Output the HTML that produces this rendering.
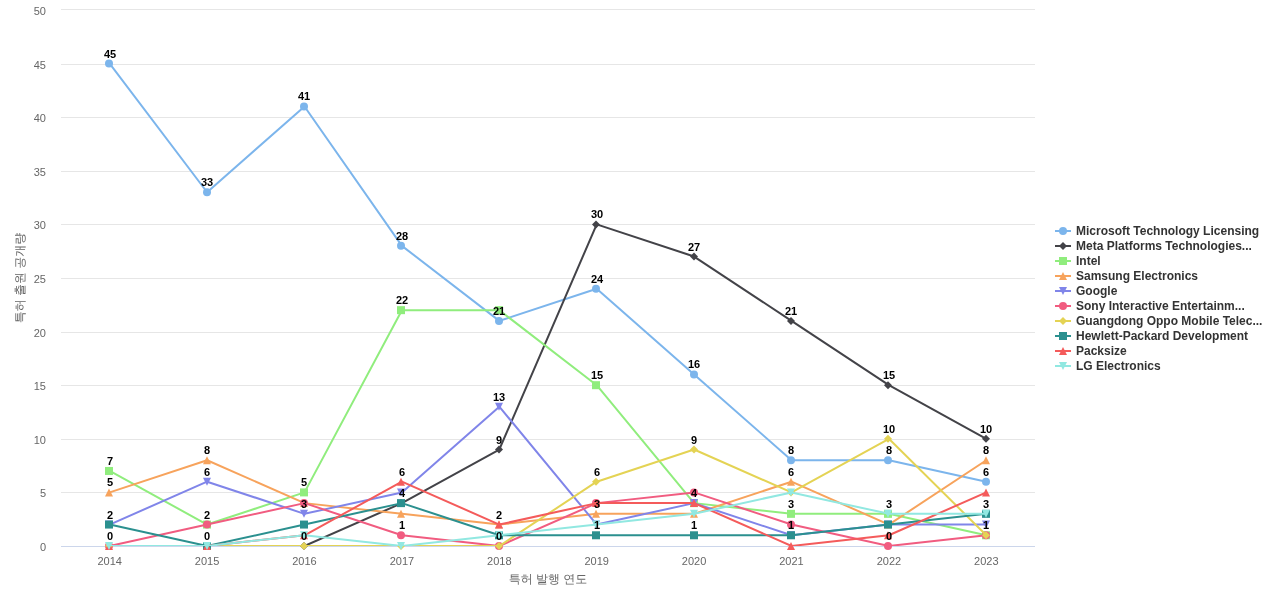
<!DOCTYPE html><html><head><meta charset="utf-8"><title>특허 출원 공개량</title><style>html,body{margin:0;padding:0;background:#fff;width:1280px;height:600px;overflow:hidden}svg{display:block;will-change:transform}text{font-family:'Liberation Sans', 'WenQuanYi Zen Hei', sans-serif}</style></head><body>
<svg width="1280" height="600" viewBox="0 0 1280 600">
<rect width="1280" height="600" fill="#ffffff"/>
<g stroke="#e6e6e6" stroke-width="1" fill="none">
<path d="M61 9.5H1035"/>
<path d="M61 64.5H1035"/>
<path d="M61 117.5H1035"/>
<path d="M61 171.5H1035"/>
<path d="M61 224.5H1035"/>
<path d="M61 278.5H1035"/>
<path d="M61 332.5H1035"/>
<path d="M61 385.5H1035"/>
<path d="M61 439.5H1035"/>
<path d="M61 492.5H1035"/>
<path d="M61 546.5H1035"/>
</g>
<path d="M61 546.5H1035" stroke="#ccd6eb" stroke-width="1" fill="none"/>
<g fill="#666666" font-size="11" text-anchor="end">
<text x="46" y="15">50</text>
<text x="46" y="68.6">45</text>
<text x="46" y="122.2">40</text>
<text x="46" y="175.8">35</text>
<text x="46" y="229.4">30</text>
<text x="46" y="283">25</text>
<text x="46" y="336.6">20</text>
<text x="46" y="390.2">15</text>
<text x="46" y="443.8">10</text>
<text x="46" y="497.4">5</text>
<text x="46" y="551">0</text>
</g>
<g fill="#666666" font-size="11" text-anchor="middle">
<text x="109.7" y="565">2014</text>
<text x="207.1" y="565">2015</text>
<text x="304.5" y="565">2016</text>
<text x="401.9" y="565">2017</text>
<text x="499.3" y="565">2018</text>
<text x="596.7" y="565">2019</text>
<text x="694.1" y="565">2020</text>
<text x="791.5" y="565">2021</text>
<text x="888.9" y="565">2022</text>
<text x="986.3" y="565">2023</text>
</g>
<text x="548" y="583" fill="#666666" font-size="12" text-anchor="middle">특허 발행 연도</text>
<text transform="translate(23.5 278) rotate(-90)" x="0" y="0" fill="#666666" font-size="12" text-anchor="middle">특허 출원 공개량</text>
<defs><clipPath id="pc"><rect x="61" y="10" width="974" height="536"/></clipPath></defs>
<g><path d="M109.7 63.6L207.1 192.24L304.5 106.48L401.9 245.84L499.3 320.88L596.7 288.72L694.1 374.48L791.5 460.24L888.9 460.24L986.3 481.68" fill="none" stroke="#7cb5ec" stroke-width="2" stroke-linejoin="round" stroke-linecap="round" clip-path="url(#pc)"/>
<circle cx="109" cy="63.6" r="4" fill="#7cb5ec"/>
<circle cx="207" cy="192.24" r="4" fill="#7cb5ec"/>
<circle cx="304" cy="106.48" r="4" fill="#7cb5ec"/>
<circle cx="401" cy="245.84" r="4" fill="#7cb5ec"/>
<circle cx="499" cy="320.88" r="4" fill="#7cb5ec"/>
<circle cx="596" cy="288.72" r="4" fill="#7cb5ec"/>
<circle cx="694" cy="374.48" r="4" fill="#7cb5ec"/>
<circle cx="791" cy="460.24" r="4" fill="#7cb5ec"/>
<circle cx="888" cy="460.24" r="4" fill="#7cb5ec"/>
<circle cx="986" cy="481.68" r="4" fill="#7cb5ec"/>
</g>
<g><path d="M109.7 546L207.1 546L304.5 546L401.9 503.12L499.3 449.52L596.7 224.4L694.1 256.56L791.5 320.88L888.9 385.2L986.3 438.8" fill="none" stroke="#434348" stroke-width="2" stroke-linejoin="round" stroke-linecap="round" clip-path="url(#pc)"/>
<path d="M109 542L113 546L109 550L105 546Z" fill="#434348"/>
<path d="M207 542L211 546L207 550L203 546Z" fill="#434348"/>
<path d="M304 542L308 546L304 550L300 546Z" fill="#434348"/>
<path d="M401 499.12L405 503.12L401 507.12L397 503.12Z" fill="#434348"/>
<path d="M499 445.52L503 449.52L499 453.52L495 449.52Z" fill="#434348"/>
<path d="M596 220.4L600 224.4L596 228.4L592 224.4Z" fill="#434348"/>
<path d="M694 252.56L698 256.56L694 260.56L690 256.56Z" fill="#434348"/>
<path d="M791 316.88L795 320.88L791 324.88L787 320.88Z" fill="#434348"/>
<path d="M888 381.2L892 385.2L888 389.2L884 385.2Z" fill="#434348"/>
<path d="M986 434.8L990 438.8L986 442.8L982 438.8Z" fill="#434348"/>
</g>
<g><path d="M109.7 470.96L207.1 524.56L304.5 492.4L401.9 310.16L499.3 310.16L596.7 385.2L694.1 503.12L791.5 513.84L888.9 513.84L986.3 535.28" fill="none" stroke="#90ed7d" stroke-width="2" stroke-linejoin="round" stroke-linecap="round" clip-path="url(#pc)"/>
<rect x="105" y="466.96" width="8" height="8" fill="#90ed7d"/>
<rect x="203" y="520.56" width="8" height="8" fill="#90ed7d"/>
<rect x="300" y="488.4" width="8" height="8" fill="#90ed7d"/>
<rect x="397" y="306.16" width="8" height="8" fill="#90ed7d"/>
<rect x="495" y="306.16" width="8" height="8" fill="#90ed7d"/>
<rect x="592" y="381.2" width="8" height="8" fill="#90ed7d"/>
<rect x="690" y="499.12" width="8" height="8" fill="#90ed7d"/>
<rect x="787" y="509.84" width="8" height="8" fill="#90ed7d"/>
<rect x="884" y="509.84" width="8" height="8" fill="#90ed7d"/>
<rect x="982" y="531.28" width="8" height="8" fill="#90ed7d"/>
</g>
<g><path d="M109.7 492.4L207.1 460.24L304.5 503.12L401.9 513.84L499.3 524.56L596.7 513.84L694.1 513.84L791.5 481.68L888.9 524.56L986.3 460.24" fill="none" stroke="#f7a35c" stroke-width="2" stroke-linejoin="round" stroke-linecap="round" clip-path="url(#pc)"/>
<path d="M109 488.4L113 496.4L105 496.4Z" fill="#f7a35c"/>
<path d="M207 456.24L211 464.24L203 464.24Z" fill="#f7a35c"/>
<path d="M304 499.12L308 507.12L300 507.12Z" fill="#f7a35c"/>
<path d="M401 509.84L405 517.84L397 517.84Z" fill="#f7a35c"/>
<path d="M499 520.56L503 528.56L495 528.56Z" fill="#f7a35c"/>
<path d="M596 509.84L600 517.84L592 517.84Z" fill="#f7a35c"/>
<path d="M694 509.84L698 517.84L690 517.84Z" fill="#f7a35c"/>
<path d="M791 477.68L795 485.68L787 485.68Z" fill="#f7a35c"/>
<path d="M888 520.56L892 528.56L884 528.56Z" fill="#f7a35c"/>
<path d="M986 456.24L990 464.24L982 464.24Z" fill="#f7a35c"/>
</g>
<g><path d="M109.7 524.56L207.1 481.68L304.5 513.84L401.9 492.4L499.3 406.64L596.7 524.56L694.1 503.12L791.5 535.28L888.9 524.56L986.3 524.56" fill="none" stroke="#8085e9" stroke-width="2" stroke-linejoin="round" stroke-linecap="round" clip-path="url(#pc)"/>
<path d="M105 520.56L113 520.56L109 528.56Z" fill="#8085e9"/>
<path d="M203 477.68L211 477.68L207 485.68Z" fill="#8085e9"/>
<path d="M300 509.84L308 509.84L304 517.84Z" fill="#8085e9"/>
<path d="M397 488.4L405 488.4L401 496.4Z" fill="#8085e9"/>
<path d="M495 402.64L503 402.64L499 410.64Z" fill="#8085e9"/>
<path d="M592 520.56L600 520.56L596 528.56Z" fill="#8085e9"/>
<path d="M690 499.12L698 499.12L694 507.12Z" fill="#8085e9"/>
<path d="M787 531.28L795 531.28L791 539.28Z" fill="#8085e9"/>
<path d="M884 520.56L892 520.56L888 528.56Z" fill="#8085e9"/>
<path d="M982 520.56L990 520.56L986 528.56Z" fill="#8085e9"/>
</g>
<g><path d="M109.7 546L207.1 524.56L304.5 503.12L401.9 535.28L499.3 546L596.7 503.12L694.1 492.4L791.5 524.56L888.9 546L986.3 535.28" fill="none" stroke="#f15c80" stroke-width="2" stroke-linejoin="round" stroke-linecap="round" clip-path="url(#pc)"/>
<circle cx="109" cy="546" r="4" fill="#f15c80"/>
<circle cx="207" cy="524.56" r="4" fill="#f15c80"/>
<circle cx="304" cy="503.12" r="4" fill="#f15c80"/>
<circle cx="401" cy="535.28" r="4" fill="#f15c80"/>
<circle cx="499" cy="546" r="4" fill="#f15c80"/>
<circle cx="596" cy="503.12" r="4" fill="#f15c80"/>
<circle cx="694" cy="492.4" r="4" fill="#f15c80"/>
<circle cx="791" cy="524.56" r="4" fill="#f15c80"/>
<circle cx="888" cy="546" r="4" fill="#f15c80"/>
<circle cx="986" cy="535.28" r="4" fill="#f15c80"/>
</g>
<g><path d="M109.7 546L207.1 546L304.5 546L401.9 546L499.3 546L596.7 481.68L694.1 449.52L791.5 492.4L888.9 438.8L986.3 535.28" fill="none" stroke="#e4d354" stroke-width="2" stroke-linejoin="round" stroke-linecap="round" clip-path="url(#pc)"/>
<path d="M109 542L113 546L109 550L105 546Z" fill="#e4d354"/>
<path d="M207 542L211 546L207 550L203 546Z" fill="#e4d354"/>
<path d="M304 542L308 546L304 550L300 546Z" fill="#e4d354"/>
<path d="M401 542L405 546L401 550L397 546Z" fill="#e4d354"/>
<path d="M499 542L503 546L499 550L495 546Z" fill="#e4d354"/>
<path d="M596 477.68L600 481.68L596 485.68L592 481.68Z" fill="#e4d354"/>
<path d="M694 445.52L698 449.52L694 453.52L690 449.52Z" fill="#e4d354"/>
<path d="M791 488.4L795 492.4L791 496.4L787 492.4Z" fill="#e4d354"/>
<path d="M888 434.8L892 438.8L888 442.8L884 438.8Z" fill="#e4d354"/>
<path d="M986 531.28L990 535.28L986 539.28L982 535.28Z" fill="#e4d354"/>
</g>
<g><path d="M109.7 524.56L207.1 546L304.5 524.56L401.9 503.12L499.3 535.28L596.7 535.28L694.1 535.28L791.5 535.28L888.9 524.56L986.3 513.84" fill="none" stroke="#2b908f" stroke-width="2" stroke-linejoin="round" stroke-linecap="round" clip-path="url(#pc)"/>
<rect x="105" y="520.56" width="8" height="8" fill="#2b908f"/>
<rect x="203" y="542" width="8" height="8" fill="#2b908f"/>
<rect x="300" y="520.56" width="8" height="8" fill="#2b908f"/>
<rect x="397" y="499.12" width="8" height="8" fill="#2b908f"/>
<rect x="495" y="531.28" width="8" height="8" fill="#2b908f"/>
<rect x="592" y="531.28" width="8" height="8" fill="#2b908f"/>
<rect x="690" y="531.28" width="8" height="8" fill="#2b908f"/>
<rect x="787" y="531.28" width="8" height="8" fill="#2b908f"/>
<rect x="884" y="520.56" width="8" height="8" fill="#2b908f"/>
<rect x="982" y="509.84" width="8" height="8" fill="#2b908f"/>
</g>
<g><path d="M109.7 546L207.1 546L304.5 535.28L401.9 481.68L499.3 524.56L596.7 503.12L694.1 503.12L791.5 546L888.9 535.28L986.3 492.4" fill="none" stroke="#f45b5b" stroke-width="2" stroke-linejoin="round" stroke-linecap="round" clip-path="url(#pc)"/>
<path d="M109 542L113 550L105 550Z" fill="#f45b5b"/>
<path d="M207 542L211 550L203 550Z" fill="#f45b5b"/>
<path d="M304 531.28L308 539.28L300 539.28Z" fill="#f45b5b"/>
<path d="M401 477.68L405 485.68L397 485.68Z" fill="#f45b5b"/>
<path d="M499 520.56L503 528.56L495 528.56Z" fill="#f45b5b"/>
<path d="M596 499.12L600 507.12L592 507.12Z" fill="#f45b5b"/>
<path d="M694 499.12L698 507.12L690 507.12Z" fill="#f45b5b"/>
<path d="M791 542L795 550L787 550Z" fill="#f45b5b"/>
<path d="M888 531.28L892 539.28L884 539.28Z" fill="#f45b5b"/>
<path d="M986 488.4L990 496.4L982 496.4Z" fill="#f45b5b"/>
</g>
<g><path d="M109.7 546L207.1 546L304.5 535.28L401.9 546L499.3 535.28L596.7 524.56L694.1 513.84L791.5 492.4L888.9 513.84L986.3 513.84" fill="none" stroke="#91e8e1" stroke-width="2" stroke-linejoin="round" stroke-linecap="round" clip-path="url(#pc)"/>
<path d="M105 542L113 542L109 550Z" fill="#91e8e1"/>
<path d="M203 542L211 542L207 550Z" fill="#91e8e1"/>
<path d="M300 531.28L308 531.28L304 539.28Z" fill="#91e8e1"/>
<path d="M397 542L405 542L401 550Z" fill="#91e8e1"/>
<path d="M495 531.28L503 531.28L499 539.28Z" fill="#91e8e1"/>
<path d="M592 520.56L600 520.56L596 528.56Z" fill="#91e8e1"/>
<path d="M690 509.84L698 509.84L694 517.84Z" fill="#91e8e1"/>
<path d="M787 488.4L795 488.4L791 496.4Z" fill="#91e8e1"/>
<path d="M884 509.84L892 509.84L888 517.84Z" fill="#91e8e1"/>
<path d="M982 509.84L990 509.84L986 517.84Z" fill="#91e8e1"/>
</g>
<g fill="#000000" font-size="11" font-weight="bold">
<text x="104" y="58">45</text>
<text x="107" y="465">7</text>
<text x="107" y="486">5</text>
<text x="107" y="519">2</text>
<text x="107" y="540">0</text>
<text x="201" y="186">33</text>
<text x="204" y="454">8</text>
<text x="204" y="476">6</text>
<text x="204" y="519">2</text>
<text x="204" y="540">0</text>
<text x="298" y="100">41</text>
<text x="301" y="486">5</text>
<text x="301" y="508">3</text>
<text x="301" y="540">0</text>
<text x="396" y="240">28</text>
<text x="396" y="304">22</text>
<text x="399" y="476">6</text>
<text x="399" y="497">4</text>
<text x="399" y="529">1</text>
<text x="493" y="315">21</text>
<text x="493" y="401">13</text>
<text x="496" y="444">9</text>
<text x="496" y="519">2</text>
<text x="496" y="540">0</text>
<text x="591" y="218">30</text>
<text x="591" y="283">24</text>
<text x="591" y="379">15</text>
<text x="594" y="476">6</text>
<text x="594" y="508">3</text>
<text x="594" y="529">1</text>
<text x="688" y="251">27</text>
<text x="688" y="368">16</text>
<text x="691" y="444">9</text>
<text x="691" y="497">4</text>
<text x="691" y="529">1</text>
<text x="785" y="315">21</text>
<text x="788" y="454">8</text>
<text x="788" y="476">6</text>
<text x="788" y="508">3</text>
<text x="788" y="529">1</text>
<text x="883" y="379">15</text>
<text x="883" y="433">10</text>
<text x="886" y="454">8</text>
<text x="886" y="508">3</text>
<text x="886" y="540">0</text>
<text x="980" y="433">10</text>
<text x="983" y="454">8</text>
<text x="983" y="476">6</text>
<text x="983" y="508">3</text>
<text x="983" y="529">1</text>
</g>
<g font-size="12" font-weight="bold" fill="#333333">
<path d="M1055 231H1071" stroke="#7cb5ec" stroke-width="2"/>
<circle cx="1063" cy="231" r="4" fill="#7cb5ec"/>
<text x="1076" y="235">Microsoft Technology Licensing</text>
<path d="M1055 246H1071" stroke="#434348" stroke-width="2"/>
<path d="M1063 242L1067 246L1063 250L1059 246Z" fill="#434348"/>
<text x="1076" y="250">Meta Platforms Technologies...</text>
<path d="M1055 261H1071" stroke="#90ed7d" stroke-width="2"/>
<rect x="1059" y="257" width="8" height="8" fill="#90ed7d"/>
<text x="1076" y="265">Intel</text>
<path d="M1055 276H1071" stroke="#f7a35c" stroke-width="2"/>
<path d="M1063 272L1067 280L1059 280Z" fill="#f7a35c"/>
<text x="1076" y="280">Samsung Electronics</text>
<path d="M1055 291H1071" stroke="#8085e9" stroke-width="2"/>
<path d="M1059 287L1067 287L1063 295Z" fill="#8085e9"/>
<text x="1076" y="295">Google</text>
<path d="M1055 306H1071" stroke="#f15c80" stroke-width="2"/>
<circle cx="1063" cy="306" r="4" fill="#f15c80"/>
<text x="1076" y="310">Sony Interactive Entertainm...</text>
<path d="M1055 321H1071" stroke="#e4d354" stroke-width="2"/>
<path d="M1063 317L1067 321L1063 325L1059 321Z" fill="#e4d354"/>
<text x="1076" y="325">Guangdong Oppo Mobile Telec...</text>
<path d="M1055 336H1071" stroke="#2b908f" stroke-width="2"/>
<rect x="1059" y="332" width="8" height="8" fill="#2b908f"/>
<text x="1076" y="340">Hewlett-Packard Development</text>
<path d="M1055 351H1071" stroke="#f45b5b" stroke-width="2"/>
<path d="M1063 347L1067 355L1059 355Z" fill="#f45b5b"/>
<text x="1076" y="355">Packsize</text>
<path d="M1055 366H1071" stroke="#91e8e1" stroke-width="2"/>
<path d="M1059 362L1067 362L1063 370Z" fill="#91e8e1"/>
<text x="1076" y="370">LG Electronics</text>
</g>
</svg></body></html>
